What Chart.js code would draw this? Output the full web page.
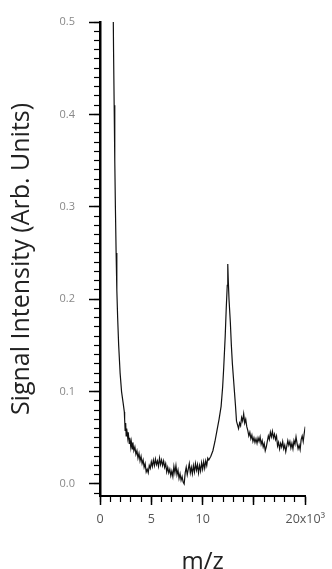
<!DOCTYPE html>
<html>
<head>
<meta charset="utf-8">
<script src="https://cdn.jsdelivr.net/npm/chart.js@4/dist/chart.umd.min.js"></script>
<style>
  body { margin: 0; background: #fff; }
  #wrap { width: 332px; height: 569px; }
</style>
</head>
<body>
<div id="wrap"><canvas id="chart" width="332" height="569"></canvas></div>
<script>
// m/z (x10^3) and signal intensity
const mzValues = [
  1.25, 1.32, 1.38, 1.44, 1.5, 1.57, 1.64, 1.72, 1.82, 1.96, 2.1, 2.25, 2.37,
  2.4, 2.45, 2.5, 2.55, 2.6, 2.7, 2.75, 2.85, 2.9, 3.0, 3.05, 3.15, 3.2, 3.3, 3.4, 3.5, 3.6, 3.7, 3.8, 3.9,
  4.0, 4.1, 4.2, 4.3, 4.4, 4.5, 4.6, 4.7, 4.8, 4.9, 5.0, 5.1, 5.2, 5.3, 5.4, 5.5, 5.6, 5.7, 5.8, 5.9,
  6.0, 6.1, 6.2, 6.3, 6.4, 6.5, 6.6, 6.7, 6.8, 6.9, 7.0, 7.1, 7.2, 7.3, 7.4, 7.5, 7.6, 7.7, 7.8, 7.9,
  8.0, 8.1, 8.2, 8.3, 8.4, 8.5, 8.6, 8.7, 8.8, 8.9, 9.0, 9.1, 9.2, 9.3, 9.4, 9.5, 9.6, 9.7, 9.8, 9.9,
  10.0, 10.1, 10.2, 10.3, 10.4, 10.5, 10.6, 10.8, 11.0, 11.2, 11.4, 11.6, 11.8, 11.95, 12.05, 12.2, 12.3, 12.4, 12.45,
  12.5, 12.57, 12.7, 12.8, 12.9, 13.0, 13.1, 13.2, 13.3, 13.4, 13.5, 13.6, 13.7, 13.8, 13.9,
  14.0, 14.1, 14.2, 14.3, 14.4, 14.5, 14.6, 14.7, 14.8, 14.9, 15.0, 15.1, 15.2, 15.3, 15.4, 15.5, 15.6, 15.7, 15.8, 15.9,
  16.0, 16.1, 16.2, 16.3, 16.4, 16.5, 16.6, 16.7, 16.8, 16.9, 17.0, 17.1, 17.2, 17.3, 17.4, 17.5, 17.6, 17.7, 17.8, 17.9,
  18.0, 18.1, 18.2, 18.3, 18.4, 18.5, 18.6, 18.7, 18.8, 18.9, 19.0, 19.1, 19.2, 19.3, 19.4, 19.5, 19.6, 19.7, 19.8, 19.9, 20.0
];
const intensityValues = [
  0.56, 0.47, 0.41, 0.35, 0.3, 0.25, 0.21, 0.18, 0.15, 0.12, 0.1, 0.088, 0.078,
  0.07, 0.058, 0.066, 0.052, 0.06, 0.05, 0.056, 0.044, 0.05, 0.04, 0.046, 0.038, 0.045, 0.036, 0.04, 0.032, 0.036, 0.028, 0.033, 0.025,
  0.03, 0.022, 0.026, 0.018, 0.022, 0.013, 0.016, 0.012, 0.02, 0.017, 0.024, 0.019, 0.026, 0.02, 0.027, 0.021, 0.025, 0.019, 0.028, 0.021,
  0.026, 0.02, 0.025, 0.018, 0.022, 0.013, 0.018, 0.012, 0.016, 0.009, 0.014, 0.008, 0.019, 0.012, 0.02, 0.01, 0.015, 0.006, 0.011, 0.004,
  0.008, 0.002, 0.0, 0.012, 0.018, 0.01, 0.016, 0.022, 0.012, 0.018, 0.011, 0.02, 0.013, 0.022, 0.015, 0.021, 0.012, 0.02, 0.014, 0.023,
  0.016, 0.024, 0.017, 0.025, 0.02, 0.028, 0.026, 0.03, 0.036, 0.046, 0.058, 0.07, 0.084, 0.105, 0.125, 0.16, 0.19, 0.215, 0.238,
  0.22, 0.2, 0.175, 0.15, 0.13, 0.115, 0.1, 0.085, 0.068, 0.064, 0.06, 0.066, 0.063, 0.072, 0.068,
  0.076, 0.066, 0.07, 0.062, 0.058, 0.052, 0.056, 0.049, 0.053, 0.046, 0.05, 0.045, 0.049, 0.044, 0.05, 0.046, 0.051, 0.043, 0.047, 0.04,
  0.044, 0.036, 0.04, 0.046, 0.052, 0.048, 0.056, 0.051, 0.057, 0.05, 0.054, 0.048, 0.052, 0.041, 0.045, 0.038, 0.044, 0.04, 0.046, 0.038,
  0.042, 0.035, 0.041, 0.047, 0.042, 0.046, 0.039, 0.044, 0.038, 0.047, 0.043, 0.051, 0.044, 0.038, 0.042, 0.037, 0.048, 0.052, 0.046, 0.055, 0.062
];

// axes
const xMin = 0, xMax = 20, xMajorStep = 5, xMinorStep = 1;
const yMin = -0.013, yMax = 0.5, yMajorStep = 0.1, yMinorStep = 0.01;
const xTitle = 'm/z';
const yTitle = 'Signal Intensity (Arb. Units)';

const points = mzValues.map((x, i) => ({ x: x, y: intensityValues[i] }));

const fontFamily = '"Open Sans", "Liberation Sans", sans-serif';

new Chart(document.getElementById('chart'), {
  type: 'line',
  data: {
    datasets: [{
      data: points,
      borderColor: '#111',
      borderWidth: 1.2,
      pointRadius: 0,
      tension: 0,
      fill: false
    }]
  },
  options: {
    responsive: false,
    animation: false,
    layout: { padding: { top: 22, right: 25, bottom: 0, left: 0 } },
    plugins: { legend: { display: false }, tooltip: { enabled: false } },
    scales: {
      // labelled axes
      x: {
        type: 'linear', position: 'bottom', weight: 1,
        min: xMin, max: xMax,
        ticks: {
          stepSize: xMajorStep, includeBounds: false, maxRotation: 0,
          color: '#555', font: { family: fontFamily, size: 12.5 }, padding: 7,
          callback: (v) => v === 20 ? '20x10³' : (v === 15 ? '' : String(v))
        },
        grid: { drawOnChartArea: false, drawTicks: true, tickLength: 9, tickColor: '#000', tickWidth: 1.5 },
        border: { display: true, color: '#000', width: 2 },
        title: { display: true, text: xTitle, color: '#222', font: { family: fontFamily, size: 24, lineHeight: 0.6 }, padding: { top: 0, bottom: 0 } },
        afterFit: (s) => { s.height = 73; }
      },
      y: {
        type: 'linear', position: 'left', weight: 1,
        min: yMin, max: yMax,
        ticks: {
          stepSize: yMajorStep, includeBounds: false,
          color: '#888', font: { family: fontFamily, size: 11 }, padding: 14,
          callback: (v) => v.toFixed(1)
        },
        grid: { drawOnChartArea: false, drawTicks: true, tickLength: 11, tickColor: '#000', tickWidth: 1.5 },
        border: { display: true, color: '#000', width: 2.5 },
        title: { display: true, text: yTitle, color: '#222', font: { family: fontFamily, size: 25 }, padding: { top: 7, bottom: 4 } },
        afterFit: (s) => { s.width = 100; }
      },
      // minor tick axes
      xMinor: {
        type: 'linear', position: 'bottom', weight: 0,
        min: xMin, max: xMax,
        ticks: { stepSize: xMinorStep, includeBounds: false, display: false },
        grid: { drawOnChartArea: false, drawTicks: true, tickLength: 6, tickColor: '#000', tickWidth: 1.2 },
        border: { display: false },
        afterFit: (s) => { s.height = 0; }
      },
      yMinor: {
        type: 'linear', position: 'left', weight: 0,
        min: yMin, max: yMax,
        ticks: { stepSize: yMinorStep, includeBounds: false, display: false },
        grid: { drawOnChartArea: false, drawTicks: true, tickLength: 6, tickColor: '#000', tickWidth: 1.2 },
        border: { display: false },
        afterFit: (s) => { s.width = 0; }
      }
    }
  }
});
</script>
</body>
</html>
